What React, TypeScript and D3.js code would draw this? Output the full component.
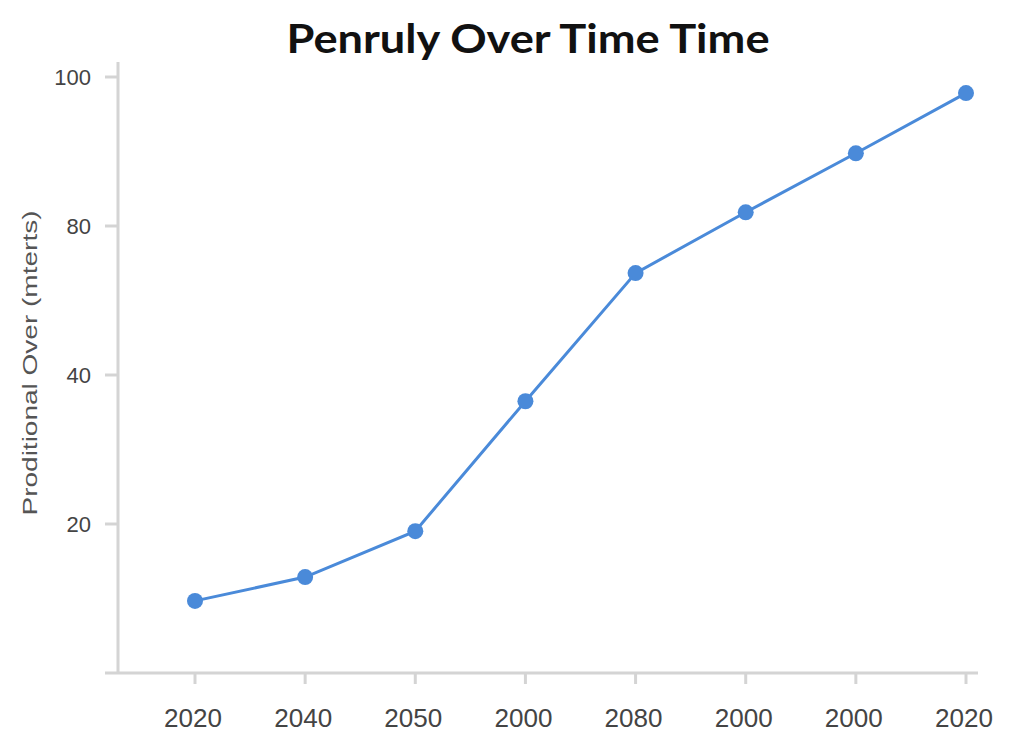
import React from "react";
import * as d3 from "d3";

const categories = ["2020", "2040", "2050", "2000", "2080", "2000", "2000", "2020"];
const values = [12.1, 16.1, 23.8, 45.6, 67.1, 77.3, 87.2, 97.3];
const yTickValues = [25, 50, 75, 100];
const yTickLabels = ["20", "40", "80", "100"];
const title = "Penruly Over Time Time";
const yLabel = "Proditional Over (mterts)";

export default function App() {
  const W = 1024, H = 748;
  const x = d3.scalePoint<number>().domain(d3.range(categories.length)).range([195, 966]);
  const y = d3.scaleLinear().domain([0, 100]).range([673, 77]);
  const line = d3.line<number>().x((_, i) => x(i)!).y((d) => y(d));
  const font = "'Liberation Sans', Arial, sans-serif";
  return (
    <svg width={W} height={H} style={{ position: "absolute", left: 0, top: 0, background: "#fff" }}>
      <rect width={W} height={H} fill="#fff" />
      <text x={528} y={53} textAnchor="middle" fontFamily="Lato, 'Open Sans', sans-serif" fontWeight="bold" fontSize={41} fill="#111" textLength={483} lengthAdjust="spacingAndGlyphs">{title}</text>
      {/* y axis */}
      <line x1={118} x2={118} y1={62} y2={673} stroke="#d4d4d4" strokeWidth={3} />
      {yTickValues.map((v, i) => (
        <g key={i}>
          <line x1={105} x2={118} y1={y(v)} y2={y(v)} stroke="#d4d4d4" strokeWidth={3} />
          <text x={91} y={y(v)} dy="0.35em" textAnchor="end" fontFamily={font} fontSize={22} fill="#444">{yTickLabels[i]}</text>
        </g>
      ))}
      {/* x axis */}
      <line x1={105} x2={978} y1={673} y2={673} stroke="#d4d4d4" strokeWidth={3} />
      {categories.map((c, i) => (
        <g key={i}>
          <line x1={x(i)!} x2={x(i)!} y1={673} y2={684} stroke="#d4d4d4" strokeWidth={3} />
          <text x={x(i)! - 2} y={727} textAnchor="middle" fontFamily={font} fontSize={25} fill="#444" textLength={58} lengthAdjust="spacingAndGlyphs">{c}</text>
        </g>
      ))}
      <text transform="translate(30,363) rotate(-90)" textAnchor="middle" dy="0.35em" fontFamily={font} fontSize={20} fill="#555" textLength={305} lengthAdjust="spacingAndGlyphs">{yLabel}</text>
      <path d={line(values)!} fill="none" stroke="#4a8ad9" strokeWidth={3} />
      {values.map((v, i) => (
        <circle key={i} cx={x(i)!} cy={y(v)} r={8} fill="#4a8ad9" />
      ))}
    </svg>
  );
}
